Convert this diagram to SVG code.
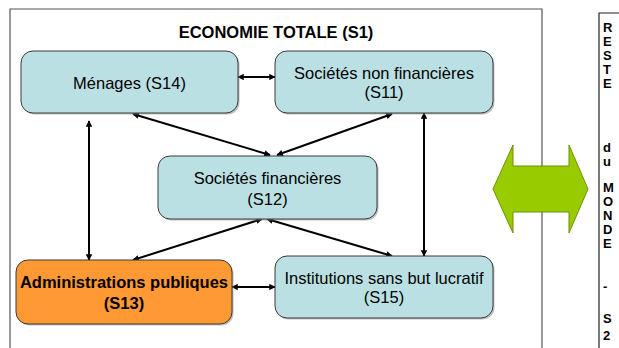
<svg xmlns="http://www.w3.org/2000/svg" width="619" height="348" viewBox="0 0 619 348">
<style>
.box{fill:#bbe0e3;stroke:#3a3a3a;stroke-width:1}
.adm{fill:#ff9933;stroke:#3a3a3a;stroke-width:1}
.sh{fill:#8a8a8a;opacity:0.55}
.t{font-family:"Liberation Sans",Arial,sans-serif;font-size:16.5px;fill:#000;text-anchor:middle}
.b{font-weight:bold}
.c{stroke:#000;stroke-width:2;fill:none;marker-start:url(#ah);marker-end:url(#ah)}
.rc{font-family:"Liberation Sans",Arial,sans-serif;font-size:13px;font-weight:bold;fill:#000}
.frame{stroke:#555;stroke-width:1.2;fill:none}
</style>
<defs>
<marker id="ah" viewBox="0 0 10 10" refX="9" refY="5" markerWidth="3.6" markerHeight="3.2" orient="auto-start-reverse">
<path d="M0,0 L10,5 L0,10 z" fill="#000"/>
</marker>
</defs>
<g id="frame">
<path class="frame" d="M10,348 V9 H542 V348"/>
<path d="M599,348 V13 H619" stroke="#222" stroke-width="1.2" fill="none"/>
<text class="t b" x="276" y="38">ECONOMIE TOTALE (S1)</text>
</g>
<g id="connectors">
<path class="c" d="M238,77 L275,77"/>
<path class="c" d="M133,114 L270,155"/>
<path class="c" d="M392,114 L277,155"/>
<path class="c" d="M89,121 L89,260"/>
<path class="c" d="M133,260 L262,219"/>
<path class="c" d="M267,219 L392,256"/>
<path class="c" d="M232,287 L275,287"/>
<path class="c" d="M424,113 L424,256"/>
</g>
<g id="menages">
<rect class="sh" x="22.5" y="52.5" width="217" height="62" rx="12"/>
<rect class="box" x="21" y="51" width="217" height="62" rx="12"/>
<text class="t" x="129.5" y="89">Ménages (S14)</text>
</g>
<g id="snf">
<rect class="sh" x="276.5" y="52.5" width="218" height="62" rx="12"/>
<rect class="box" x="275" y="51" width="218" height="62" rx="12"/>
<text class="t" x="384" y="79">Sociétés non financières</text>
<text class="t" x="384" y="98">(S11)</text>
</g>
<g id="sf">
<rect class="sh" x="159.5" y="157.5" width="219" height="63" rx="12"/>
<rect class="box" x="158" y="156" width="219" height="63" rx="12"/>
<text class="t" x="267.5" y="184">Sociétés financières</text>
<text class="t" x="267.5" y="205">(S12)</text>
</g>
<g id="adm">
<rect class="sh" x="17.5" y="261.5" width="216" height="64" rx="12"/>
<rect class="adm" x="16" y="260" width="216" height="64" rx="12"/>
<text class="t b" x="124" y="288">Administrations publiques</text>
<text class="t b" x="124" y="309">(S13)</text>
</g>
<g id="isbl">
<rect class="sh" x="276.5" y="257.5" width="218" height="62" rx="12"/>
<rect class="box" x="275" y="256" width="218" height="62" rx="12"/>
<text class="t" x="384" y="284">Institutions sans but lucratif</text>
<text class="t" x="384" y="303">(S15)</text>
</g>
<g id="green-arrow">
<polygon points="493,189 513,145 513,166 569,166 569,145 588,189 569,233 569,212 513,212 513,233" fill="#99cc00" stroke="#6f8f00" stroke-width="1"/>
</g>
<g id="rdm">
<text class="rc" x="603" y="32">R</text>
<text class="rc" x="603" y="46">E</text>
<text class="rc" x="603" y="60">S</text>
<text class="rc" x="603" y="74">T</text>
<text class="rc" x="603" y="88">E</text>
<text class="rc" x="603" y="152">d</text>
<text class="rc" x="603" y="166">u</text>
<text class="rc" x="603" y="192">M</text>
<text class="rc" x="603" y="206">O</text>
<text class="rc" x="603" y="220">N</text>
<text class="rc" x="603" y="234">D</text>
<text class="rc" x="603" y="248">E</text>
<text class="rc" x="603" y="291">-</text>
<text class="rc" x="603" y="323">S</text>
<text class="rc" x="603" y="340">2</text>
</g>
</svg>
